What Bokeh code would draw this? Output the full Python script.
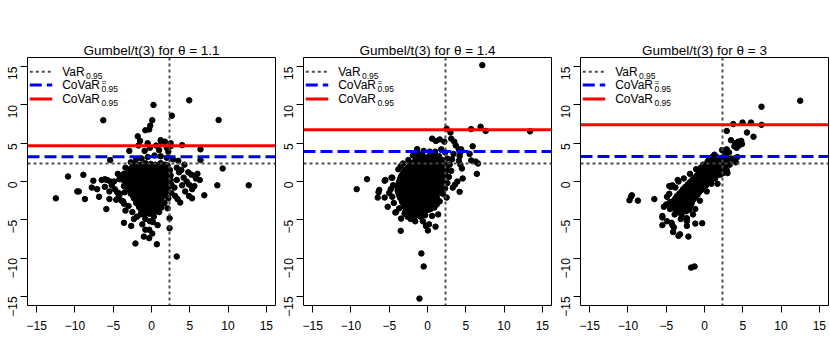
import math
from bokeh.plotting import figure
from bokeh.layouts import row
from bokeh.models import Range1d, FixedTicker, Span, Label
from bokeh.embed import file_html
from bokeh.resources import INLINE

# ---------------- data ----------------
thetas = ["1.1", "1.4", "3"]
var_q = 2.35
covar_eq = [3.23, 3.92, 3.27]
covar = [4.67, 6.76, 7.41]
ticks = [-15, -10, -5, 0, 5, 10, 15]

p1_core = [
    (-2.1, 2.3), (-1.4, 2.2), (-0.8, 2.4), (-0.1, 2.3), (0.5, 2.2), (1.2, 2.4), (1.8, 2.2),
    (-2.7, 1.7), (-2.0, 1.6), (-1.3, 1.8), (-0.6, 1.7), (0.1, 1.6), (0.7, 1.8), (1.4, 1.7), (2.1, 1.6),
    (-3.0, 1.1), (-2.3, 1.0), (-1.6, 1.2), (-1.0, 1.1), (-0.3, 1.0), (0.4, 1.2), (1.0, 1.1), (1.7, 1.0), (2.3, 1.2),
    (-3.1, 0.5), (-2.5, 0.4), (-1.8, 0.6), (-1.1, 0.5), (-0.5, 0.4), (0.2, 0.6), (0.8, 0.5), (1.5, 0.4), (2.2, 0.6),
    (-3.0, -0.1), (-2.3, -0.2), (-1.7, 0.0), (-1.0, -0.1), (-0.4, -0.2), (0.3, 0.0), (0.9, -0.1), (1.6, -0.2), (2.3, 0.0),
    (-2.9, -0.7), (-2.2, -0.8), (-1.5, -0.6), (-0.9, -0.7), (-0.2, -0.8), (0.4, -0.6), (1.1, -0.7), (1.8, -0.8), (2.4, -0.6),
    (-2.7, -1.3), (-2.0, -1.4), (-1.4, -1.2), (-0.7, -1.3), (-0.1, -1.4), (0.6, -1.2), (1.2, -1.3), (1.9, -1.4),
    (-2.4, -1.9), (-1.8, -2.0), (-1.1, -1.8), (-0.5, -1.9), (0.2, -2.0), (0.8, -1.8), (1.5, -1.9),
    (-2.0, -2.5), (-1.4, -2.6), (-0.8, -2.4), (-0.2, -2.5), (0.4, -2.6), (1.1, -2.4),
    (-1.7, -3.1), (-1.1, -3.2), (-0.5, -3.0), (0.1, -3.1), (0.7, -3.2),
    (-1.3, -3.7), (-0.7, -3.8), (-0.1, -3.6), (0.5, -3.7),
    (-1.0, -4.3), (-0.3, -4.2),
]
p1_core_b = [
    (-2.4, 2.0), (-1.7, 2.1), (-1.1, 1.9), (-0.4, 2.0), (0.2, 2.1), (0.9, 1.9), (1.5, 2.0), (2.1, 2.1),
    (-2.8, 1.4), (-2.1, 1.3), (-1.5, 1.5), (-0.8, 1.4), (-0.2, 1.3), (0.5, 1.5), (1.1, 1.4), (1.8, 1.3), (2.4, 1.5),
    (-3.2, 0.8), (-2.6, 0.7), (-1.9, 0.9), (-1.3, 0.8), (-0.6, 0.7), (0.0, 0.9), (0.7, 0.8), (1.3, 0.7), (2.0, 0.9), (2.5, 0.8),
    (-3.3, 0.2), (-2.7, 0.1), (-2.0, 0.3), (-1.4, 0.2), (-0.7, 0.1), (-0.1, 0.3), (0.6, 0.2), (1.2, 0.1), (1.9, 0.3), (2.5, 0.2),
    (-3.2, -0.4), (-2.6, -0.5), (-2.0, -0.3), (-1.3, -0.4), (-0.7, -0.5), (0.0, -0.3), (0.6, -0.4), (1.3, -0.5), (2.0, -0.3), (2.6, -0.4),
    (-3.0, -1.0), (-2.4, -1.1), (-1.8, -0.9), (-1.1, -1.0), (-0.5, -1.1), (0.1, -0.9), (0.8, -1.0), (1.4, -1.1), (2.1, -0.9),
    (-2.7, -1.6), (-2.1, -1.7), (-1.5, -1.5), (-0.8, -1.6), (-0.2, -1.7), (0.5, -1.5), (1.1, -1.6), (1.7, -1.7),
    (-2.3, -2.2), (-1.7, -2.3), (-1.1, -2.1), (-0.5, -2.2), (0.1, -2.3), (0.7, -2.1), (1.3, -2.2),
    (-2.0, -2.8), (-1.4, -2.9), (-0.8, -2.7), (-0.2, -2.8), (0.4, -2.9), (1.0, -2.7),
    (-1.6, -3.4), (-1.0, -3.5), (-0.4, -3.3), (0.2, -3.4), (0.8, -3.5),
    (-1.3, -4.0), (-0.7, -4.1), (0.0, -3.9), (0.4, -4.0),
]
p1_outer = [
    (-6.3, 8.0), (0.26, 10.0), (4.93, 10.6), (8.77, 8.03), (2.67, 8.6), (0.1, 8.0), (-0.17, 7.3),
    (-0.3, 6.8), (-0.8, 6.7), (-1.8, 5.9), (-1.5, 5.3), (1.27, 5.2), (1.75, 5.2), (2.5, 5.0),
    (4.0, 4.75), (6.4, 4.2), (6.4, 2.8), (9.3, 1.7), (-2.9, 4.0), (-5.4, 2.8), (-10.9, 0.65),
    (-8.9, 0.87), (-12.5, -2.2), (-9.7, -1.3), (-9.5, -1.3), (-8.7, -2.3), (-7.6, 0.1), (-7.8, -0.8),
    (-7.1, -1.0), (-6.85, -2.0), (-6.5, 0.2), (-6.1, 0.3), (-5.8, 0.2), (-6.1, -0.7), (-5.9, -3.6),
    (-5.5, -1.3), (-5.5, -2.3), (-5.4, 0.0), (-4.9, 0.0), (-4.6, -2.4), (-4.3, -2.0), (-3.7, -2.6),
    (-3.6, -5.4), (-2.65, -5.8), (-2.1, -8.1), (-1.0, -7.2), (-0.3, -7.4), (0.1, -6.8), (-0.8, -6.3),
    (-0.3, -6.3), (0.7, -8.2), (3.3, -9.8), (2.36, -4.8), (2.36, -6.1), (8.6, -0.5), (12.7, -0.5),
    (6.9, -1.8), (5.3, -2.2), (4.9, -1.9), (5.6, -0.6), (5.8, 0.4), (5.7, 0.7), (4.2, 0.5), (4.6, 0.0),
    (4.9, -0.4), (3.75, -2.75), (3.1, -1.9), (3.4, -2.3), (2.1, -3.5), (0.2, -5.3), (-0.2, -5.2),
    (-4.4, 1.0), (-4.0, 0.6), (-4.2, 0.3), (-5.2, -0.5), (-4.8, -1.0), (-4.5, -1.4), (-4.1, -1.6),
    (-3.9, -2.5), (-3.6, -2.9), (-3.0, -3.2), (-3.4, -3.8), (-2.5, -4.0), (-1.9, -4.6), (-1.4, -4.3),
    (-0.8, -4.9), (0.3, -4.6), (1.0, -4.0), (1.3, -3.4), (1.7, -2.8), (2.2, -2.2), (2.6, -1.5),
    (3.0, -0.8), (3.3, 0.2), (3.6, 1.2), (3.3, 1.8), (3.5, 2.7), (2.8, 2.9), (2.0, 3.1), (1.2, 3.3),
    (0.4, 3.4), (-0.5, 3.2), (-1.3, 3.0), (-2.0, 2.9), (-2.7, 2.5), (-3.4, 1.8), (-3.6, 1.0),
    (-3.7, 0.2), (-3.6, -0.6), (-3.5, -1.4), (2.0, 4.4), (2.5, 4.6), (2.2, 3.9), (1.0, 4.1),
    (-0.2, 4.4), (-0.9, 4.0), (-1.7, 4.7), (-0.5, 5.0), (0.6, 4.7), (1.2, 5.4), (3.9, 1.5), (4.3, 2.2),
    (4.8, 1.2), (5.2, 0.9), (6.0, 1.0), (6.3, 0.2), (5.3, -1.0), (4.4, -1.3), (4.0, -0.5),
    (-1.2, -5.6), (-2.3, -4.9), (0.8, -5.7),
]

p2_core = [
    (-0.6, 3.3), (0.1, 3.2), (0.8, 3.4), (1.5, 3.3),
    (-1.6, 2.7), (-0.9, 2.6), (-0.2, 2.8), (0.5, 2.7), (1.2, 2.6), (1.9, 2.8),
    (-2.3, 2.1), (-1.6, 2.0), (-0.9, 2.2), (-0.2, 2.1), (0.5, 2.0), (1.2, 2.2), (1.9, 2.1), (2.4, 2.0),
    (-2.9, 1.5), (-2.2, 1.4), (-1.5, 1.6), (-0.8, 1.5), (-0.1, 1.4), (0.6, 1.6), (1.3, 1.5), (2.0, 1.4), (2.5, 1.6),
    (-3.3, 0.9), (-2.6, 0.8), (-1.9, 1.0), (-1.2, 0.9), (-0.5, 0.8), (0.2, 1.0), (0.9, 0.9), (1.6, 0.8), (2.2, 1.0),
    (-3.6, 0.3), (-2.9, 0.2), (-2.2, 0.4), (-1.5, 0.3), (-0.8, 0.2), (-0.1, 0.4), (0.6, 0.3), (1.3, 0.2), (2.0, 0.4),
    (-3.8, -0.3), (-3.1, -0.4), (-2.4, -0.2), (-1.7, -0.3), (-1.0, -0.4), (-0.3, -0.2), (0.4, -0.3), (1.1, -0.4), (1.8, -0.2),
    (-3.9, -0.9), (-3.2, -1.0), (-2.5, -0.8), (-1.8, -0.9), (-1.1, -1.0), (-0.4, -0.8), (0.3, -0.9), (1.0, -1.0), (1.6, -0.8),
    (-3.8, -1.5), (-3.1, -1.6), (-2.4, -1.4), (-1.7, -1.5), (-1.0, -1.6), (-0.3, -1.4), (0.4, -1.5), (1.1, -1.6), (1.7, -1.4),
    (-3.6, -2.1), (-2.9, -2.2), (-2.2, -2.0), (-1.5, -2.1), (-0.8, -2.2), (-0.1, -2.0), (0.6, -2.1), (1.2, -2.2),
    (-3.3, -2.7), (-2.6, -2.8), (-1.9, -2.6), (-1.2, -2.7), (-0.5, -2.8), (0.2, -2.6), (0.8, -2.7),
    (-3.0, -3.3), (-2.3, -3.4), (-1.6, -3.2), (-0.9, -3.3), (-0.2, -3.4), (0.4, -3.2),
    (-2.4, -3.9), (-1.7, -4.0), (-1.0, -3.8), (-0.3, -3.9),
    (-1.6, -4.5), (-0.9, -4.6), (-0.3, -4.4),
]
p2_core_b = [
    (-1.2, 3.0), (-0.5, 2.9), (0.2, 3.1), (0.9, 3.0), (1.6, 2.9),
    (-2.0, 2.4), (-1.3, 2.3), (-0.6, 2.5), (0.1, 2.4), (0.8, 2.3), (1.5, 2.5), (2.2, 2.4),
    (-2.6, 1.8), (-1.9, 1.7), (-1.2, 1.9), (-0.5, 1.8), (0.2, 1.7), (0.9, 1.9), (1.6, 1.8), (2.3, 1.7),
    (-3.1, 1.2), (-2.4, 1.1), (-1.7, 1.3), (-1.0, 1.2), (-0.3, 1.1), (0.4, 1.3), (1.1, 1.2), (1.8, 1.1), (2.4, 1.3),
    (-3.5, 0.6), (-2.8, 0.5), (-2.1, 0.7), (-1.4, 0.6), (-0.7, 0.5), (0.0, 0.7), (0.7, 0.6), (1.4, 0.5), (2.1, 0.7),
    (-3.7, 0.0), (-3.0, -0.1), (-2.3, 0.1), (-1.6, 0.0), (-0.9, -0.1), (-0.2, 0.1), (0.5, 0.0), (1.2, -0.1), (1.9, 0.1),
    (-3.9, -0.6), (-3.2, -0.7), (-2.5, -0.5), (-1.8, -0.6), (-1.1, -0.7), (-0.4, -0.5), (0.3, -0.6), (1.0, -0.7), (1.7, -0.5),
    (-3.9, -1.2), (-3.2, -1.3), (-2.5, -1.1), (-1.8, -1.2), (-1.1, -1.3), (-0.4, -1.1), (0.3, -1.2), (1.0, -1.3), (1.6, -1.1),
    (-3.7, -1.8), (-3.0, -1.9), (-2.3, -1.7), (-1.6, -1.8), (-0.9, -1.9), (-0.2, -1.7), (0.5, -1.8), (1.2, -1.9),
    (-3.4, -2.4), (-2.7, -2.5), (-2.0, -2.3), (-1.3, -2.4), (-0.6, -2.5), (0.1, -2.3), (0.7, -2.4),
    (-3.1, -3.0), (-2.4, -3.1), (-1.7, -2.9), (-1.0, -3.0), (-0.3, -3.1), (0.4, -2.9),
    (-2.7, -3.6), (-2.0, -3.7), (-1.3, -3.5), (-0.6, -3.6), (0.1, -3.7),
    (-2.0, -4.2), (-1.3, -4.3), (-0.6, -4.1),
]
p2_outer = [
    (7.16, 15.2), (5.7, 6.85), (6.94, 7.15), (7.6, 6.6), (13.4, 6.55), (2.5, 6.9), (3.0, 6.4),
    (0.6, 5.6), (1.6, 5.5), (1.1, 5.3), (2.2, 5.2), (3.1, 5.6), (3.5, 5.2), (3.7, 4.7), (4.1, 4.2),
    (5.9, 4.6), (5.5, 3.6), (6.3, 2.6), (6.6, 2.35), (5.7, 2.75), (4.2, 3.3), (4.3, 3.8), (4.4, 4.2),
    (4.1, 2.7), (4.3, 2.2), (4.5, 1.7), (-1.35, 4.23), (-1.9, 3.4), (-3.2, 2.35), (-3.8, 1.6),
    (-3.5, 2.0), (-7.9, 0.3), (-5.5, 0.2), (-4.6, 0.5), (-9.25, -1.0), (-6.5, -2.1), (-6.4, -1.4),
    (-6.3, -1.1), (-5.6, 0.1), (-5.6, -2.1), (-5.2, -3.3), (-4.7, 0.5), (-4.2, -4.05), (-4.1, -4.0),
    (-3.45, -4.85), (-3.5, -6.45), (-3.0, -4.2), (-2.6, -4.6), (-2.2, -4.9), (-1.6, -5.2), (0.05, -6.4),
    (1.05, -5.9), (-0.8, -9.4), (-0.5, -11.1), (-1.05, -15.3), (2.5, -2.1), (0.9, -3.4), (0.4, -3.6),
    (4.2, -1.35), (3.3, -0.8), (3.6, -0.4), (3.9, 0.0), (4.6, 0.4), (6.45, 1.0), (0.2, -5.6),
    (-0.2, -5.8), (-0.6, -5.2), (-4.8, -1.0), (-4.6, -2.0), (-4.4, -2.8), (-4.5, -0.5), (-5.0, -1.5),
    (2.6, 3.0), (2.9, 2.2), (3.1, 1.4), (2.8, 0.6), (2.6, -0.2), (2.3, -0.9), (2.0, -1.6), (1.6, -2.6),
    (1.2, -3.0), (-0.5, 4.0), (0.3, 3.9), (1.0, 3.9), (1.8, 4.2), (2.3, 3.8), (-2.5, 2.8), (-1.2, 3.6),
    (3.4, 3.6), (3.2, 2.9), (1.4, -4.3), (0.6, -4.5), (-2.9, -3.9), (-3.7, -3.5),
]

p3_core = [
    (1.6, 3.2), (2.2, 3.1), (2.8, 3.3),
    (0.9, 2.6), (1.5, 2.5), (2.1, 2.7), (2.6, 2.6),
    (0.2, 2.0), (0.8, 1.9), (1.4, 2.1), (2.0, 2.0), (2.5, 1.9),
    (-0.4, 1.4), (0.2, 1.3), (0.8, 1.5), (1.4, 1.4), (1.9, 1.3),
    (-1.0, 0.8), (-0.4, 0.7), (0.2, 0.9), (0.8, 0.8), (1.3, 0.7),
    (-1.6, 0.2), (-1.0, 0.1), (-0.4, 0.3), (0.2, 0.2), (0.8, 0.1),
    (-2.2, -0.4), (-1.6, -0.5), (-1.0, -0.3), (-0.4, -0.4), (0.2, -0.5),
    (-2.8, -1.0), (-2.2, -1.1), (-1.6, -0.9), (-1.0, -1.0), (-0.4, -1.1),
    (-3.3, -1.6), (-2.7, -1.7), (-2.1, -1.5), (-1.5, -1.6), (-0.9, -1.7),
    (-3.8, -2.2), (-3.2, -2.3), (-2.6, -2.1), (-2.0, -2.2), (-1.4, -2.3),
    (-4.1, -2.8), (-3.5, -2.9), (-2.9, -2.7), (-2.3, -2.8), (-1.7, -2.9),
    (-4.0, -3.4), (-3.4, -3.5), (-2.8, -3.3), (-2.2, -3.4),
    (-3.6, -4.0), (-3.0, -4.1), (-2.4, -3.9),
]
p3_core_b = [
    (1.2, 2.9), (1.9, 2.8), (2.5, 3.0), (3.0, 2.9),
    (0.5, 2.3), (1.1, 2.2), (1.7, 2.4), (2.3, 2.3), (2.8, 2.2),
    (-0.1, 1.7), (0.5, 1.6), (1.1, 1.8), (1.7, 1.7), (2.2, 1.6),
    (-0.7, 1.1), (-0.1, 1.0), (0.5, 1.2), (1.1, 1.1), (1.6, 1.0),
    (-1.3, 0.5), (-0.7, 0.4), (-0.1, 0.6), (0.5, 0.5), (1.1, 0.4),
    (-1.9, -0.1), (-1.3, -0.2), (-0.7, 0.0), (-0.1, -0.1), (0.5, -0.2),
    (-2.5, -0.7), (-1.9, -0.8), (-1.3, -0.6), (-0.7, -0.7), (-0.1, -0.8),
    (-3.0, -1.3), (-2.5, -1.4), (-1.9, -1.2), (-1.3, -1.3), (-0.7, -1.4),
    (-3.6, -1.9), (-3.0, -2.0), (-2.4, -1.8), (-1.8, -1.9), (-1.2, -2.0),
    (-4.0, -2.5), (-3.4, -2.6), (-2.8, -2.4), (-2.2, -2.5), (-1.6, -2.6),
    (-4.2, -3.1), (-3.7, -3.2), (-3.1, -3.0), (-2.5, -3.1), (-1.9, -3.2),
    (-3.8, -3.7), (-3.2, -3.8), (-2.6, -3.6), (-2.0, -3.7),
]
p3_outer = [
    (12.5, 10.55), (7.45, 9.77), (7.45, 7.4), (6.07, 7.7), (4.97, 7.7), (3.76, 7.5), (2.9, 6.6),
    (5.55, 6.4), (6.4, 5.85), (3.46, 5.4), (4.0, 5.0), (4.4, 5.2), (4.8, 5.3), (4.9, 4.9), (3.9, 4.6),
    (4.2, 4.4), (4.5, 4.7), (2.3, 4.1), (2.6, 3.9), (2.9, 4.2), (3.2, 3.8), (1.3, 3.5), (0.6, 2.9),
    (1.0, 3.2), (0.4, 2.6), (-0.5, 1.8), (-0.2, 2.2), (3.9, 2.8), (4.3, 3.2), (4.1, 2.5), (3.5, 3.0),
    (3.3, 2.2), (2.9, 1.5), (-3.5, 0.2), (-9.8, -2.45), (-9.6, -2.0), (-9.5, -1.8), (-8.7, -2.5),
    (-6.55, -2.3), (-5.3, -3.3), (-5.5, -4.5), (-5.5, -4.7), (-5.5, -5.7), (-4.9, -5.2), (-4.3, -5.4),
    (-4.2, -5.7), (-4.0, -6.0), (-4.1, -6.6), (-4.6, -0.6), (-4.4, -0.7), (-4.2, -0.5), (-3.4, 0.0),
    (-4.6, -1.6), (-4.5, -2.7), (-4.5, -3.6), (-3.4, -7.1), (-3.2, -6.9), (-2.1, -7.2), (-2.3, -5.8),
    (-2.3, -5.2), (-2.3, -4.8), (-1.2, -5.5), (-0.3, -5.45), (-1.75, -11.25), (-1.3, -11.1),
    (-3.1, -4.9), (-3.0, -4.4), (-2.9, -3.9), (-1.5, -4.3), (-1.2, -3.6), (-0.6, -2.5), (0.3, -1.3),
    (0.9, -0.3), (1.4, 0.4), (1.9, 0.9), (2.4, 1.3), (-3.8, -0.8), (-2.7, 0.4), (-1.9, 1.0),
    (-1.1, 1.6), (-4.9, -2.0), (-5.0, -3.0), (-3.9, -4.3), (1.7, -0.3), (2.1, 0.9), (2.4, 1.1), (3.0, 1.1),
]

panels_pts = [p1_core + p1_core_b + p1_outer,
              p2_core + p2_core_b + p2_outer,
              p3_core + p3_core_b + p3_outer]

# ---------------- layout / style ----------------
FW = 248
LIM = 16.2
FONT = "Liberation Sans"
GRAY = "#4d4d4d"


def fx(ox):
    return -LIM + ox * 2 * LIM / FW


def fy(oy):
    return LIM - oy * 2 * LIM / FW


def make_panel(i, left):
    pts = panels_pts[i]
    xs = [p[0] for p in pts]
    ys = [p[1] for p in pts]
    p = figure(output_backend="svg", toolbar_location=None,
               frame_width=FW, frame_height=FW,
               x_range=Range1d(-LIM, LIM), y_range=Range1d(-LIM, LIM),
               min_border_left=left, min_border_right=1,
               min_border_top=57, min_border_bottom=40,
               title="Gumbel/t(3) for θ = " + thetas[i])
    p.title.align = "center"
    p.title.text_font = FONT
    p.title.text_font_size = "13.5px"
    p.title.text_font_style = "normal"
    p.title.text_color = "black"
    p.title.standoff = 0
    p.grid.visible = False
    p.outline_line_color = "black"
    p.outline_line_width = 1
    p.background_fill_color = "white"
    p.border_fill_color = "white"
    for ax in (p.xaxis[0], p.yaxis[0]):
        ax.ticker = FixedTicker(ticks=ticks)
        ax.axis_line_color = None
        ax.major_tick_out = 7
        ax.major_tick_in = 0
        ax.minor_tick_out = 0
        ax.minor_tick_in = 0
        ax.major_tick_line_color = "black"
        ax.major_label_text_font = FONT
        ax.major_label_text_font_size = "12px"
        ax.major_label_text_color = "black"
    p.xaxis[0].major_label_standoff = 8
    p.yaxis[0].major_label_standoff = 8
    p.yaxis[0].major_label_orientation = math.pi / 2

    p.scatter(xs, ys, size=5.5, color="black")

    p.add_layout(Span(location=var_q, dimension="height", line_color=GRAY,
                      line_dash="3 3", line_width=2))
    p.add_layout(Span(location=var_q, dimension="width", line_color=GRAY,
                      line_dash="3 3", line_width=2))
    p.add_layout(Span(location=covar_eq[i], dimension="width", line_color="#0000ff",
                      line_dash="12 5", line_width=3))
    p.add_layout(Span(location=covar[i], dimension="width", line_color="#ff0000",
                      line_width=3))

    # legend (drawn manually to get sub/superscripts)
    rows_oy = [14.3, 27.6, 41.6]
    styles = [dict(line_color=GRAY, line_dash="3 3", line_width=2),
              dict(line_color="#0000ff", line_dash="12 5", line_width=3),
              dict(line_color="#ff0000", line_width=3)]
    mains = ["VaR", "CoVaR", "CoVaR"]
    main_w = [23.3, 38.7, 38.7]
    sups = ["", "=", ""]
    for k in range(3):
        yy = fy(rows_oy[k])
        p.line([fx(2.3), fx(24.7)], [yy, yy], **styles[k])
        p.add_layout(Label(x=fx(34.7), y=yy, text=mains[k], text_font=FONT,
                           text_font_size="12px", text_baseline="middle",
                           text_align="left", text_color="black"))
        p.add_layout(Label(x=fx(34.7 + main_w[k] + 0.5), y=fy(rows_oy[k] + 3.8), text="0.95",
                           text_font=FONT, text_font_size="8.5px",
                           text_baseline="middle", text_align="left", text_color="black"))
        if sups[k]:
            p.add_layout(Label(x=fx(34.7 + main_w[k] + 0.5), y=fy(rows_oy[k] - 3.2), text=sups[k],
                               text_font=FONT, text_font_size="8.5px",
                               text_baseline="middle", text_align="left", text_color="black"))
    return p


p1 = make_panel(0, 27)
p2 = make_panel(1, 27)
p3 = make_panel(2, 28)
layout = row(p1, p2, p3)

open("out.html", "w").write(file_html(layout, INLINE, "Gumbel/t(3)"))
